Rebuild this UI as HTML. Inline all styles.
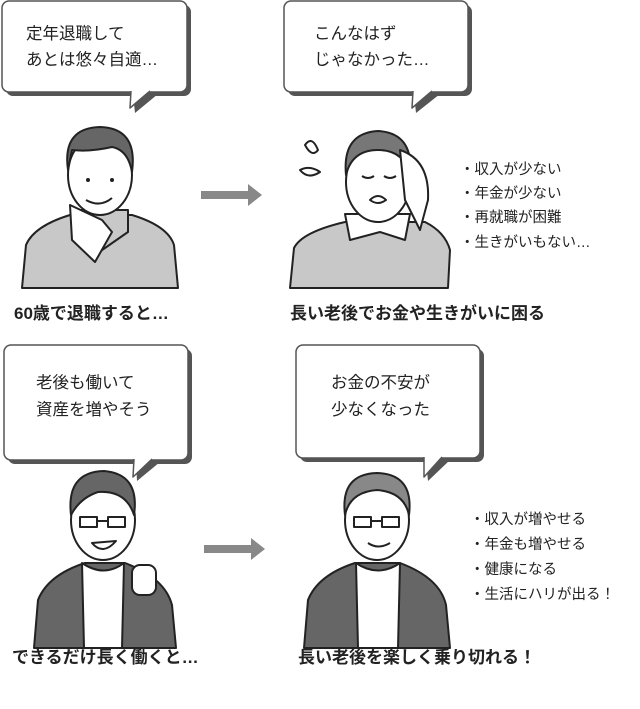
<!DOCTYPE html>
<html><head><meta charset="utf-8"><style>
body{margin:0;background:#fff;width:640px;height:704px;overflow:hidden}
svg text{font-family:"Liberation Sans","Noto Sans CJK JP",sans-serif;fill:#222}
</style></head><body>
<svg width="640" height="704" viewBox="0 0 640 704" xmlns="http://www.w3.org/2000/svg">
<g stroke-linejoin="round">
<rect x="6" y="5" width="185" height="91" rx="7" fill="#555"/><path d="M133 94 L135 113 L158 94 Z" fill="#555"/>
<rect x="2" y="1" width="185" height="91" rx="7" fill="#fff" stroke="#555" stroke-width="1.5"/>
<path d="M131 91 L130 108 L150 91" fill="#fff" stroke="#555" stroke-width="1.5"/><path d="M132 90 H149" stroke="#fff" stroke-width="2.5"/>

<rect x="288" y="5" width="184" height="91" rx="7" fill="#555"/><path d="M414 94 L416 113 L440 94 Z" fill="#555"/>
<rect x="284" y="1" width="184" height="91" rx="7" fill="#fff" stroke="#555" stroke-width="1.5"/>
<path d="M413 91 L412 108 L432 91" fill="#fff" stroke="#555" stroke-width="1.5"/><path d="M414 90 H431" stroke="#fff" stroke-width="2.5"/>

<rect x="8" y="349" width="184" height="115" rx="7" fill="#555"/><path d="M136 462 L137 481 L160 462 Z" fill="#555"/>
<rect x="4" y="345" width="184" height="115" rx="7" fill="#fff" stroke="#555" stroke-width="1.5"/>
<path d="M134 459 L133 477 L152 459" fill="#fff" stroke="#555" stroke-width="1.5"/><path d="M135 458 H151" stroke="#fff" stroke-width="2.5"/>

<rect x="300" y="349" width="184" height="113" rx="7" fill="#555"/><path d="M426 460 L428 481 L450 460 Z" fill="#555"/>
<rect x="296" y="345" width="184" height="113" rx="7" fill="#fff" stroke="#555" stroke-width="1.5"/>
<path d="M424 457 L424 477 L442 457" fill="#fff" stroke="#555" stroke-width="1.5"/><path d="M425 456 H441" stroke="#fff" stroke-width="2.5"/>
</g>
<g font-size="16.5">
<text x="26" y="39">定年退職して</text><text x="26" y="65">あとは悠々自適…</text>
<text x="314" y="39">こんなはず</text><text x="314" y="65">じゃなかった…</text>
<text x="36" y="388">老後も働いて</text><text x="36" y="415">資産を増やそう</text>
<text x="331" y="388">お金の不安が</text><text x="331" y="415">少なくなった</text>
</g>
<g fill="#888">
<path d="M201 191 H248 V184 L262 195 L248 206 V199 H201 Z"/>
<path d="M204 545 H251 V538 L265 549 L251 560 V553 H204 Z"/>
</g>
<!-- person 1 -->
<g stroke="#222" stroke-width="2" stroke-linejoin="round">
<path d="M22 288 L26 245 Q34 226 70 215 L132 215 Q168 226 174 245 L178 288 Z" fill="#c8c8c8"/>
<path d="M72 210 L72 235 L95 255 L128 232 L128 210 Z" fill="#c8c8c8"/>
<ellipse cx="100" cy="175" rx="32" ry="40" fill="#fff"/>
<path d="M68 170 Q62 128 100 127 Q138 128 132 172 Q128 150 112 147 Q90 152 72 150 Z" fill="#666"/>
<path d="M70 205 L72 240 L95 262 L112 232 L102 220 Z" fill="#fff"/>
<path d="M86 200 Q100 208 112 198" fill="none"/>
</g>
<circle cx="88" cy="180" r="2" fill="#222"/><circle cx="112" cy="180" r="2" fill="#222"/>
<!-- person 2 -->
<g stroke="#222" stroke-width="2" stroke-linejoin="round">
<path d="M290 288 L294 248 Q302 232 345 222 L425 222 Q445 232 450 250 L448 288 Z" fill="#c8c8c8"/>
<path d="M345 214 L350 240 L380 232 L405 240 L410 214 Z" fill="#fff"/>
<ellipse cx="378" cy="182" rx="32" ry="40" fill="#fff"/>
<path d="M346 175 Q342 133 378 131 Q414 133 410 175 Q404 150 378 150 Q352 150 346 175 Z" fill="#777"/>
<path d="M400 150 Q430 160 428 200 L420 230 L405 200 Z" fill="#fff"/>
<path d="M305 145 Q312 135 318 150 Q312 158 305 145 Z M300 170 Q310 165 320 172 Q308 180 300 170 Z" fill="#fff"/>
<path d="M362 176 Q368 180 374 176 M384 176 Q390 180 396 176 M370 200 Q378 192 386 200 Q378 206 370 200 Z" fill="none"/>
</g>
<!-- person 3 -->
<g stroke="#222" stroke-width="2" stroke-linejoin="round">
<path d="M34 648 L38 600 Q48 575 85 563 L125 563 Q165 578 172 605 L176 648 Z" fill="#666"/>
<path d="M82 563 Q104 578 124 563 L122 648 L84 648 Z" fill="#fff"/>
<ellipse cx="103" cy="520" rx="32" ry="40" fill="#fff"/>
<path d="M71 515 Q66 472 104 471 Q140 474 134 515 Q126 490 98 492 Q80 498 71 515 Z" fill="#666"/>
<rect x="132" y="565" width="24" height="30" rx="8" fill="#fff"/>
<path d="M80 517 h17 v10 h-17 Z M108 517 h17 v10 h-17 Z M97 521 h11 M92 543 Q103 556 116 541 Z" fill="none"/>
</g>
<!-- person 4 -->
<g stroke="#222" stroke-width="2" stroke-linejoin="round">
<path d="M304 648 L308 600 Q318 575 355 563 L400 563 Q440 578 446 605 L450 648 Z" fill="#666"/>
<path d="M356 563 Q378 578 400 563 L398 648 L358 648 Z" fill="#fff"/>
<ellipse cx="377" cy="520" rx="32" ry="40" fill="#fff"/>
<path d="M345 515 Q340 474 377 473 Q414 474 409 515 Q404 492 377 490 Q350 492 345 515 Z" fill="#888"/>
<path d="M354 517 h17 v10 h-17 Z M382 517 h17 v10 h-17 Z M371 521 h11 M368 543 Q378 550 390 543" fill="none"/>
</g>
<g font-size="17" font-weight="bold">
<text x="14" y="319">60歳で退職すると…</text>
<text x="290" y="319">長い老後でお金や生きがいに困る</text>
<text x="12" y="663">できるだけ長く働くと…</text>
<text x="298" y="663">長い老後を楽しく乗り切れる！</text>
</g>
<g font-size="14.5">
<text x="460" y="174">・収入が少ない</text>
<text x="460" y="198">・年金が少ない</text>
<text x="460" y="222">・再就職が困難</text>
<text x="460" y="247">・生きがいもない…</text>
<text x="470" y="524">・収入が増やせる</text>
<text x="470" y="549">・年金も増やせる</text>
<text x="470" y="574">・健康になる</text>
<text x="470" y="599">・生活にハリが出る！</text>
</g>
</svg>
</body></html>
